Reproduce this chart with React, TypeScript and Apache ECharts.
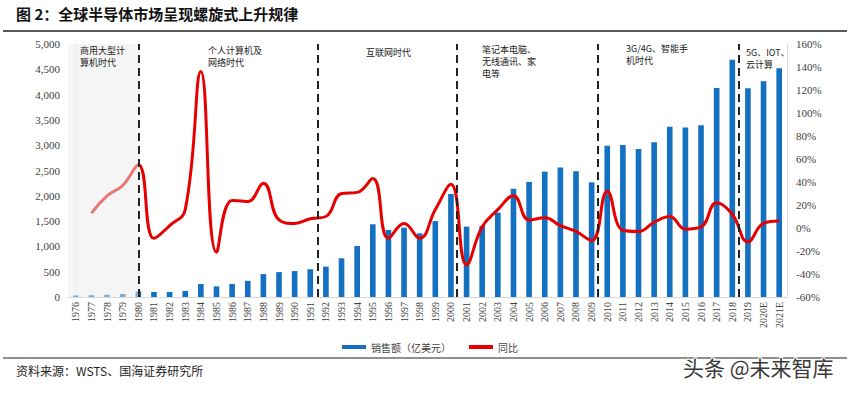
import React, { useEffect, useRef } from "react";
import * as echarts from "echarts";

const years: string[] = [
  "1976","1977","1978","1979","1980","1981","1982","1983","1984","1985",
  "1986","1987","1988","1989","1990","1991","1992","1993","1994","1995",
  "1996","1997","1998","1999","2000","2001","2002","2003","2004","2005",
  "2006","2007","2008","2009","2010","2011","2012","2013","2014","2015",
  "2016","2017","2018","2019","2020E","2021E",
];

const sales: number[] = [
  30, 35, 45, 60, 110, 100, 100, 120, 257, 210,
  257, 320, 452, 492, 512, 548, 600, 765, 1008, 1437,
  1324, 1370, 1258, 1500, 2036, 1390, 1405, 1667, 2140, 2275,
  2477, 2560, 2485, 2266, 2990, 3004, 2925, 3057, 3366, 3350,
  3393, 4130, 4690, 4125, 4265, 4520,
];

const growth: (number | null)[] = [
  null, 13, 28, 37, 55, -9, 2, 16, 136, -21,
  24, 23, 39, 7, 4, 8, 10, 30, 31, 43,
  -9, 4, -9, 16, 38, -32, 1, 16, 28, 7,
  9, 2, -3, -11, 32, -2, -3, 5, 10, -1,
  1, 22, 12, -12, 4, 6,
];

const leftTicks = { min: 0, max: 5000, interval: 500 };
const rightTicks = { min: -60, max: 160, interval: 20 };

// era boundaries (category index positions on hidden value axis)
const eraLines: number[] = [4, 15.5, 24.4, 33.4, 42.4];
const shadedEra: [number, number] = [-0.5, 4];

const eraTexts: { text: string; x: number; y: number }[] = [
  { text: "商用大型计\n算机时代", x: 80, y: 44 },
  { text: "个人计算机及\n网络时代", x: 208, y: 44 },
  { text: "互联网时代", x: 366, y: 46 },
  { text: "笔记本电脑、\n无线通讯、家\n电等", x: 482, y: 43 },
  { text: "3G/4G、智能手\n机时代", x: 626, y: 42 },
  { text: "5G、IOT、\n云计算", x: 746, y: 46 },
];

const title = "图 2：全球半导体市场呈现螺旋式上升规律";
const source = "资料来源：WSTS、国海证券研究所";
const watermark = "头条 @未来智库";
const salesName = "销售额（亿美元）";
const growthName = "同比";

const CJK = "'Noto Sans CJK SC', 'Noto Sans', sans-serif";
const SERIF = "'Liberation Serif', 'DejaVu Serif', serif";

export default function App() {
  const ref = useRef<HTMLDivElement>(null);
  useEffect(() => {
    document.body.style.margin = "0";
    if (!ref.current) return;
    const chart = echarts.init(ref.current, undefined, { renderer: "svg" });
    const option: any = {
      animation: false,
      backgroundColor: "#ffffff",
      grid: { left: 68, right: 63, top: 44, bottom: 96, containLabel: false },
      legend: {
        left: 337,
        top: 337,
        itemWidth: 24,
        itemHeight: 4,
        itemGap: 18,
        textStyle: { fontSize: 10, color: "#444", fontFamily: CJK },
        data: [
          { name: salesName, icon: "rect" },
          { name: growthName, icon: "rect" },
        ],
      },
      xAxis: [
        {
          type: "category",
          data: years,
          boundaryGap: true,
          axisLine: { show: true, lineStyle: { color: "#d9d9d9" } },
          axisTick: { show: false },
          axisLabel: {
            interval: 0,
            rotate: 90,
            fontSize: 10,
            color: "#404040",
            fontFamily: SERIF,
            margin: 5,
          },
        },
        {
          type: "value",
          min: -0.5,
          max: 45.5,
          show: false,
        },
      ],
      yAxis: [
        {
          type: "value",
          min: leftTicks.min,
          max: leftTicks.max,
          interval: leftTicks.interval,
          axisLine: { show: true, lineStyle: { color: "#e6e6e6" } },
          axisTick: { show: false },
          splitLine: { show: false },
          axisLabel: {
            fontSize: 11,
            color: "#404040",
            fontFamily: SERIF,
            margin: 8,
            formatter: (v: number) => v.toLocaleString("en-US"),
          },
        },
        {
          type: "value",
          min: rightTicks.min,
          max: rightTicks.max,
          interval: rightTicks.interval,
          position: "right",
          axisLine: { show: true, lineStyle: { color: "#d9d9d9" } },
          axisTick: { show: false },
          splitLine: { show: false },
          axisLabel: {
            fontSize: 11,
            color: "#404040",
            fontFamily: SERIF,
            margin: 9,
            formatter: "{value}%",
          },
        },
      ],
      series: [
        {
          name: salesName,
          type: "bar",
          data: sales,
          barWidth: "36%",
          itemStyle: { color: "#1470c0" },
          z: 2,
        },
        {
          name: growthName,
          type: "line",
          yAxisIndex: 1,
          data: growth,
          smooth: 0.45,
          showSymbol: false,
          symbol: "none",
          lineStyle: { color: "#e60000", width: 3 },
          itemStyle: { color: "#e60000" },
          z: 3,
        },
        {
          name: "markers",
          type: "scatter",
          xAxisIndex: 1,
          yAxisIndex: 0,
          data: [[0, 0]],
          symbolSize: 0,
          silent: true,
          z: 10,
          markArea: {
            silent: true,
            z: 10,
            itemStyle: { color: "rgba(236,236,236,0.5)" },
            data: [[{ xAxis: shadedEra[0] }, { xAxis: shadedEra[1] }]],
          },
          markLine: {
            silent: true,
            symbol: "none",
            z: 11,
            label: { show: false },
            lineStyle: { color: "#222", width: 2, type: [8, 5] },
            data: eraLines.map((v) => ({ xAxis: v })),
          },
        },
      ],
      graphic: [
        {
          type: "text",
          left: 16,
          top: 6,
          style: {
            text: title,
            fontSize: 15,
            fontWeight: "bold",
            fill: "#111",
            fontFamily: CJK,
          },
        },
        {
          type: "line",
          shape: { x1: 3, y1: 31, x2: 847, y2: 31 },
          style: { stroke: "#222", lineWidth: 1.5 },
        },
        {
          type: "line",
          shape: { x1: 3, y1: 358, x2: 847, y2: 358 },
          style: { stroke: "#222", lineWidth: 1.2 },
        },
        {
          type: "text",
          left: 16,
          top: 364,
          style: { text: source, fontSize: 12, fill: "#222", fontFamily: CJK },
        },
        ...eraTexts.map((e) => ({
          type: "text",
          left: e.x,
          top: e.y,
          z: 20,
          style: {
            text: e.text,
            fontSize: 9,
            lineHeight: 12,
            fill: "#222",
            fontFamily: CJK,
          },
        })),
        {
          type: "text",
          left: 682,
          top: 355,
          z: 30,
          style: {
            text: watermark,
            fontSize: 21,
            fill: "#3a3a3a",
            stroke: "#ffffff",
            lineWidth: 2,
            fontFamily: CJK,
          },
        },
      ],
    };
    chart.setOption(option);
    return () => chart.dispose();
  }, []);
  return (
    <div
      ref={ref}
      style={{ width: 850, height: 393, position: "absolute", left: 0, top: 0 }}
    />
  );
}
